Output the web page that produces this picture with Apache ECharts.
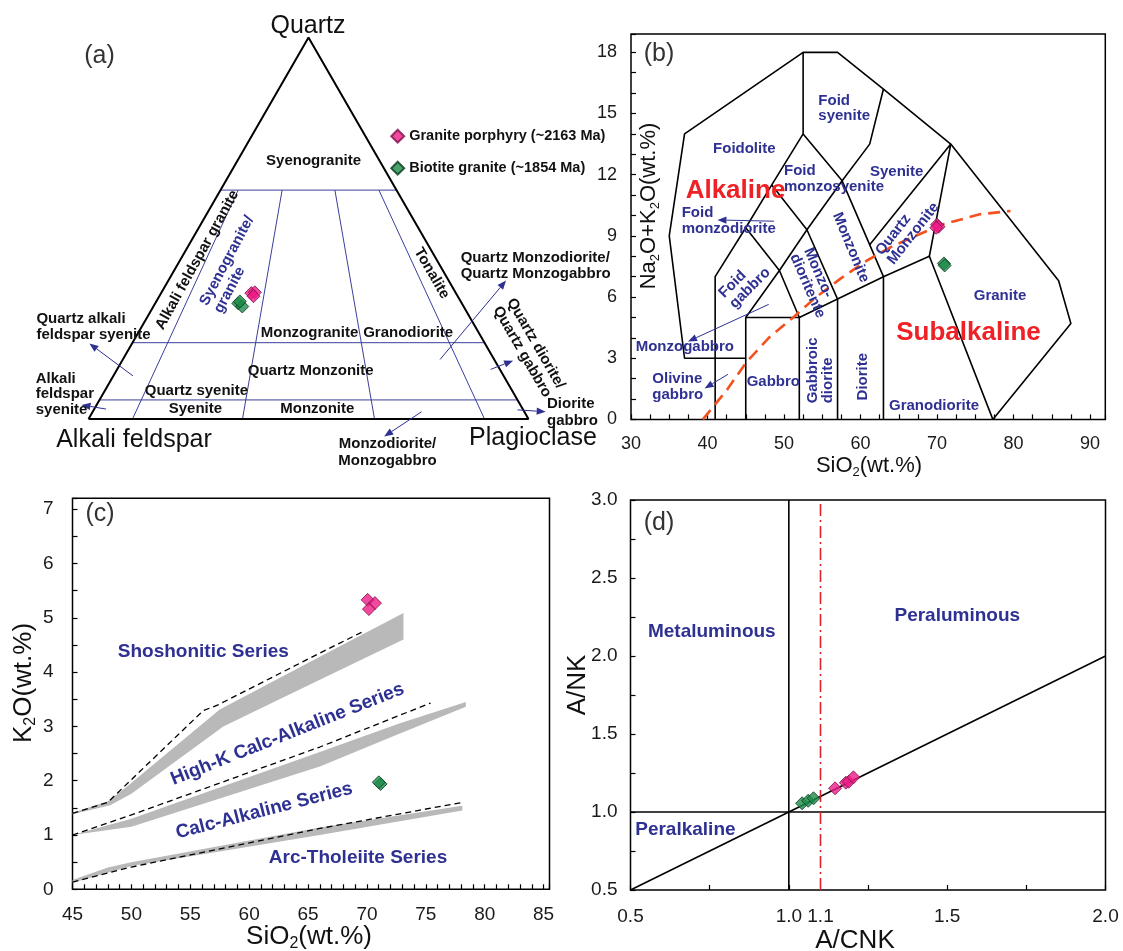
<!DOCTYPE html>
<html>
<head>
<meta charset="utf-8">
<title>Granite classification diagrams</title>
<script src="https://cdn.jsdelivr.net/npm/echarts@6/dist/echarts.min.js"></script>
<style>
html, body { margin: 0; padding: 0; background: #ffffff; }
#chart { width: 1123px; height: 951px; }
</style>
</head>
<body>
<div id="chart"></div>
<script>
// ---------------- sample groups ----------------
const NAME_P = 'Granite porphyry (~2163 Ma)';
const NAME_B = 'Biotite granite (~1854 Ma)';

// (a) QAP modal compositions, [Q, A, P] in %
const qapPorphyry = [[33.0, 46.5, 20.5], [33.2, 45.6, 21.2], [32.2, 46.4, 21.4]];
const qapBiotite  = [[30.3, 50.8, 18.9], [29.5, 50.3, 20.2], [30.8, 50.2, 19.0]];
// Streckeisen field boundaries: Q levels and P/(A+P) ratios, in %
const qapQLevels  = [60, 20, 5];
const qapPRatios  = [10, 35, 65, 90];
const qapRatioTopQ = 60;

// (b) TAS: SiO2 vs Na2O+K2O (wt.%)
const tasPorphyry = [[70.0, 9.55], [70.2, 9.45], [69.9, 9.4]];
const tasBiotite  = [[70.9, 7.65], [71.0, 7.55]];
const tasFieldLines = [
  [[41, 3], [37, 3], [35, 9], [37, 14], [52.5, 18], [57, 18], [63, 16.2], [71.8, 13.5], [85.9, 6.8], [87.5, 4.7], [77.3, 0]],
  [[41, 0], [41, 7], [45, 9.4], [48.4, 11.5], [52.5, 14], [52.5, 18]],
  [[41, 3], [45, 3]],
  [[45, 0], [45, 5], [52, 5]],
  [[45, 5], [49.4, 7.3], [53, 9.3], [57.6, 11.7], [61.2, 13.5], [63, 16.2]],
  [[45, 9.4], [49.4, 7.3], [52, 5], [57, 5.9], [63, 7], [69, 8], [77.3, 0]],
  [[48.4, 11.5], [53, 9.3], [57, 5.9]],
  [[52.5, 14], [57.6, 11.7], [63, 7]],
  [[61.2, 8.57], [71.8, 13.5], [69, 8]],
  [[52, 0], [52, 5]],
  [[57, 0], [57, 5.9]],
  [[63, 0], [63, 7]]
];
// alkaline / subalkaline divide
const tasAlkalineDivide = [[39.4, 0], [42.5, 1.43], [45.1, 2.81], [48.1, 4.03], [51.2, 5.0], [54.2, 6.0],
  [57.3, 6.88], [60.8, 7.78], [64.2, 8.5], [67.7, 9.08], [70.8, 9.57], [75.6, 10.06], [79.6, 10.22]];
const tasXTicks = [30, 40, 50, 60, 70, 80, 90];
const tasYTicks = [0, 3, 6, 9, 12, 15, 18];

// (c) SiO2 vs K2O (wt.%)
const k2oPorphyry = [[70.06, 5.33], [70.68, 5.27], [70.17, 5.16]];
const k2oBiotite  = [[71.16, 1.94], [71.0, 1.97]];
const k2oBands = [
  [[45, 1.41], [48, 1.62], [49.5, 1.87], [57.5, 3.31], [66, 4.28], [73.1, 5.09], [73.1, 4.6], [66, 3.86], [57.8, 3.0], [50, 1.76], [48.2, 1.55], [45, 1.38]],
  [[45, 1.0], [50, 1.3], [66, 2.53], [72.8, 3.06], [78.4, 3.45], [78.4, 3.36], [72.8, 2.87], [66, 2.26], [50, 1.15], [45, 1.0]],
  [[45, 0.17], [48, 0.4], [50, 0.5], [66, 1.14], [78.1, 1.54], [78.1, 1.45], [66, 1.0], [50, 0.43], [45, 0.12]]
];
const k2oDashed = [
  [[45, 1.4], [48, 1.6], [48.8, 1.77], [56.1, 3.29], [57.3, 3.39], [66, 4.35], [69.8, 4.76]],
  [[45, 1.0], [50, 1.37], [66, 2.62], [75.4, 3.43]],
  [[45, 0.13], [50, 0.41], [66, 1.12], [78.1, 1.6]]
];
const k2oXTicks = [45, 50, 55, 60, 65, 70, 75, 80, 85];
const k2oYTicks = [0, 1, 2, 3, 4, 5, 6, 7];

// (d) A/CNK vs A/NK
const ancPorphyry = [[1.146, 1.152], [1.18, 1.188], [1.189, 1.194], [1.204, 1.222]];
const ancBiotite  = [[1.042, 1.056], [1.061, 1.072], [1.078, 1.088]];
const ancLines = [[[1.0, 0.5], [1.0, 3.0]], [[0.5, 1.0], [2.0, 1.0]], [[0.5, 0.5], [2.0, 2.0]]];
const ancRefACNK = 1.1;
const ancXTicks = [0.5, 1.0, 1.5, 2.0];
const ancYTicks = [0.5, 1.0, 1.5, 2.0, 2.5, 3.0];

// ---------------- styling ----------------
const FONT = 'Liberation Sans, Arial, Helvetica, sans-serif';
const NAVY = '#2e3192';
const RED = '#ee2226';
const LOOK_P = { color: '#ee1b86', borderColor: '#7d0f49', borderWidth: 1 };
const LOOK_B = { color: '#1d8c4a', borderColor: '#0b3a1e', borderWidth: 1 };

// ternary projection: x = P + Q/2, y = Q
const qap = ([q, a, p]) => [(p + q / 2) / 100, q / 100];

const qapOutline = [[0, 100, 0], [0, 0, 100], [100, 0, 0], [0, 100, 0]].map(qap);
const qapLevelLines = qapQLevels.map(q => [qap([q, 100 - q, 0]), qap([q, 0, 100 - q])]);
const qapRatioLines = qapPRatios.map(r => [qapRatioTopQ, 0].map(q => {
  const p = (100 - q) * r / 100;
  return qap([q, 100 - q - p, p]);
}));

// annotation arrows (tail, head) in each panel's plotting coordinates
const qapArrows = [
  [[0.101, 0.113], [0.002, 0.198]],
  [[0.040, 0.026], [-0.016, 0.037]],
  [[0.799, 0.156], [0.949, 0.363]],
  [[0.914, 0.130], [0.965, 0.153]],
  [[0.975, 0.024], [1.039, 0.019]],
  [[0.757, 0.019], [0.672, -0.046]]
];
const tasArrows = [
  [[48.7, 9.72], [41.3, 9.78]],
  [[48.0, 5.64], [37.45, 3.82]],
  [[42.67, 2.21], [39.62, 1.52]]
];

// ---------------- helpers ----------------
function lineSeries(gi, pts, style, z) {
  return {
    type: 'line', xAxisIndex: gi, yAxisIndex: gi, data: pts, symbol: 'none',
    silent: true, clip: false, z: z || 3, lineStyle: style
  };
}
function scatter(gi, name, data, look) {
  return {
    type: 'scatter', name, xAxisIndex: gi, yAxisIndex: gi, data,
    symbol: 'diamond', symbolSize: 13, itemStyle: look, z: 8
  };
}
function arrowSeries(gi, list, anchor) {
  return {
    type: 'custom', coordinateSystem: 'cartesian2d', xAxisIndex: gi, yAxisIndex: gi,
    data: [anchor], silent: true, clip: false, z: 5,
    renderItem: (params, api) => {
      const kids = [];
      list.forEach(([a, b]) => {
        const p = api.coord(a), q = api.coord(b);
        const dx = q[0] - p[0], dy = q[1] - p[1], L = Math.hypot(dx, dy);
        const ux = dx / L, uy = dy / L, hl = 9, hw = 3.6;
        const bx = q[0] - ux * hl, by = q[1] - uy * hl;
        kids.push({ type: 'line', shape: { x1: p[0], y1: p[1], x2: bx, y2: by }, style: { stroke: NAVY, lineWidth: 1 } });
        kids.push({ type: 'polygon', shape: { points: [q, [bx - uy * hw, by + ux * hw], [bx + uy * hw, by - ux * hw]] }, style: { fill: NAVY } });
      });
      return { type: 'group', children: kids };
    }
  };
}
function bandSeries(gi, bands, anchor) {
  return {
    type: 'custom', coordinateSystem: 'cartesian2d', xAxisIndex: gi, yAxisIndex: gi,
    data: [anchor], silent: true, z: 2,
    renderItem: (params, api) => ({
      type: 'group',
      children: bands.map(b => ({ type: 'polygon', shape: { points: b.map(v => api.coord(v)) }, style: { fill: '#b9b9b9' } }))
    })
  };
}
const hasTick = (list, v) => list.some(t => Math.abs(t - v) < 1e-6);
function valueAxis(gi, min, max, step, labels, fmt, o) {
  return {
    type: 'value', gridIndex: gi, min, max, interval: step,
    axisLine: { show: false }, splitLine: { show: false },
    axisTick: { show: true, inside: true, length: 5, lineStyle: { color: '#000', width: 1.2 } },
    axisLabel: {
      margin: o.margin, fontSize: o.size, color: '#1a1a1a', fontFamily: FONT,
      formatter: v => hasTick(labels, v) ? fmt(v) : ''
    }
  };
}
const intFmt = v => String(Math.round(v));
const oneDec = v => v.toFixed(1);
const hiddenAxis = gi => ({ type: 'value', gridIndex: gi, min: 0, max: 1, show: false });

function txt(text, x, y, o) {
  o = o || {};
  const style = {
    text, fill: o.color || '#111', fontSize: o.size || 15, fontWeight: o.weight || 'bold',
    fontFamily: FONT, align: o.align || 'center', verticalAlign: 'middle', lineHeight: o.lh || 16
  };
  if (o.rich) style.rich = o.rich;
  return { type: 'text', x, y, rotation: (o.rot || 0) * Math.PI / 180, z: 10, silent: true, style };
}
const subRich = size => ({ s: { fontSize: Math.round(size * 0.6), lineHeight: 9, verticalAlign: 'bottom', fontFamily: FONT, fill: '#111' } });
const title = (t, x, y, size, rot) => txt(t, x, y, { size, weight: 'normal', rot: rot || 0, lh: size + 4, rich: subRich(size) });

// ---------------- chart ----------------
const frame = { show: true, borderColor: '#000', borderWidth: 1.5, backgroundColor: 'transparent' };

const option = {
  animation: false,
  backgroundColor: '#ffffff',
  textStyle: { fontFamily: FONT },
  grid: [
    { left: 88.5, top: 37.5, width: 440, height: 381.5, show: false },
    Object.assign({ left: 631, top: 34, width: 474.3, height: 385.4 }, frame),
    Object.assign({ left: 72.5, top: 498.3, width: 477, height: 391 }, frame),
    Object.assign({ left: 630.5, top: 500, width: 475, height: 390 }, frame)
  ],
  xAxis: [
    hiddenAxis(0),
    valueAxis(1, 30, 92, 2.5, tasXTicks, intFmt, { margin: 16, size: 18 }),
    valueAxis(2, 45, 85.5, 1, k2oXTicks, intFmt, { margin: 16, size: 19 }),
    valueAxis(3, 0.5, 2.0, 0.25, ancXTicks, oneDec, { margin: 17, size: 19 })
  ],
  yAxis: [
    hiddenAxis(0),
    valueAxis(1, 0, 18.9, 1, tasYTicks, intFmt, { margin: 14, size: 18 }),
    valueAxis(2, 0, 7.2, 0.5, k2oYTicks, intFmt, { margin: 19, size: 19 }),
    valueAxis(3, 0.5, 3.0, 0.25, ancYTicks, oneDec, { margin: 13, size: 19 })
  ],
  legend: {
    data: [NAME_P, NAME_B], orient: 'vertical', left: 385.2, top: 123.7,
    itemWidth: 13, itemHeight: 13, itemGap: 17, icon: 'diamond', selectedMode: false,
    textStyle: { fontSize: 14.5, fontWeight: 'bold', color: '#111', fontFamily: FONT, lineHeight: 14 }
  },
  series: [
    // (a) QAP
    lineSeries(0, qapOutline, { color: '#000', width: 2 }, 4),
    ...qapLevelLines.map(l => lineSeries(0, l, { color: '#3b3f9b', width: 1 })),
    ...qapRatioLines.map(l => lineSeries(0, l, { color: '#3b3f9b', width: 1 })),
    arrowSeries(0, qapArrows, [0, 0]),
    scatter(0, NAME_B, qapBiotite.map(qap), LOOK_B),
    scatter(0, NAME_P, qapPorphyry.map(qap), LOOK_P),

    // (b) TAS
    ...tasFieldLines.map(l => lineSeries(1, l, { color: '#000', width: 1.6 })),
    lineSeries(1, tasAlkalineDivide, { color: '#f4511e', width: 2.6, type: [12, 7] }, 6),
    arrowSeries(1, tasArrows, [30, 0]),
    scatter(1, NAME_B, tasBiotite, LOOK_B),
    scatter(1, NAME_P, tasPorphyry, LOOK_P),

    // (c) K2O
    bandSeries(2, k2oBands, [45, 0]),
    ...k2oDashed.map(l => lineSeries(2, l, { color: '#000', width: 1.3, type: [6, 4] }, 4)),
    scatter(2, NAME_B, k2oBiotite, LOOK_B),
    scatter(2, NAME_P, k2oPorphyry, LOOK_P),

    // (d) A/CNK - A/NK
    ...ancLines.map(l => lineSeries(3, l, { color: '#000', width: 1.6 })),
    lineSeries(3, [[ancRefACNK, 0.5], [ancRefACNK, 3.0]], { color: '#e3212b', width: 1.6, type: [12, 4, 2, 4] }, 5),
    {
      // axis-style label for the A/CNK = 1.1 reference line
      type: 'scatter', xAxisIndex: 3, yAxisIndex: 3, data: [[ancRefACNK, 0.5]], symbol: 'circle', symbolSize: 1,
      silent: true, z: 9, itemStyle: { color: 'rgba(255,255,255,0)' },
      label: {
        show: true, position: 'bottom', distance: 17, formatter: () => ancRefACNK.toFixed(1),
        fontSize: 19, color: '#1a1a1a', fontFamily: FONT, opacity: 1
      }
    },
    scatter(3, NAME_B, ancBiotite, LOOK_B),
    scatter(3, NAME_P, ancPorphyry, LOOK_P)
  ],
  graphic: { elements: [
    // (a)
    txt('(a)', 99.5, 56, { size: 25, weight: 'normal', color: '#333' }),
    txt('Quartz', 308, 26, { size: 25, weight: 'normal' }),
    txt('Alkali feldspar', 134, 440, { size: 25, weight: 'normal' }),
    txt('Plagioclase', 533, 438, { size: 25, weight: 'normal' }),
    txt('Syenogranite', 313.6, 160.7),
    txt('Alkali feldspar granite', 197.3, 260, { rot: 61 }),
    txt('Syenogranite/\ngranite', 210.7, 308.3, { rot: 62, align: 'left', color: NAVY, lh: 16 }),
    txt('Tonalite', 431.7, 273.3, { rot: -60 }),
    txt('Monzogranite', 309.5, 332.7),
    txt('Granodiorite', 408.2, 332.7),
    txt('Quartz Monzonite', 310.7, 370.7),
    txt('Quartz syenite', 196.4, 390.7),
    txt('Syenite', 195.4, 409.3),
    txt('Monzonite', 317.3, 409.3),
    txt('Quartz alkali\nfeldspar syenite', 36.4, 327.2, { align: 'left', lh: 15.7 }),
    txt('Alkali\nfeldspar\nsyenite', 35.7, 394, { align: 'left', lh: 15.5 }),
    txt('Quartz Monzodiorite/\nQuartz Monzogabbro', 460.7, 266.2, { align: 'left', lh: 15.7 }),
    txt('Quartz diorite/\nQuartz gabbro', 503.4, 303.4, { rot: -60, align: 'left', lh: 16 }),
    txt('Diorite\ngabbro', 547, 412.2, { align: 'left', lh: 16.5 }),
    txt('Monzodiorite/\nMonzogabbro', 387.5, 452.5, { lh: 17 }),

    // (b)
    txt('(b)', 659, 54, { size: 25, weight: 'normal', color: '#333' }),
    txt('Foid\nsyenite', 818.3, 108.3, { align: 'left', color: NAVY, lh: 15.3 }),
    txt('Foidolite', 744.3, 149.3, { color: NAVY }),
    txt('Foid\nmonzosyenite', 784, 178.8, { align: 'left', color: NAVY, lh: 15.7 }),
    txt('Syenite', 896.7, 171.7, { color: NAVY }),
    txt('Alkaline', 735.5, 190.7, { size: 26, color: RED }),
    txt('Foid\nmonzodiorite', 681.7, 221.3, { align: 'left', color: NAVY, lh: 16 }),
    txt('Monzonite', 850.8, 247.5, { rot: -67.5, color: NAVY }),
    txt('Quartz\nMonzonite', 884.6, 258.1, { rot: 52, align: 'left', color: NAVY, lh: 15 }),
    txt('Monzo-\ndioritente', 800.8, 251.7, { rot: -66.5, align: 'left', color: NAVY, lh: 15 }),
    txt('Foid\ngabbro', 726.7, 300.8, { rot: 45, align: 'left', color: NAVY, lh: 15 }),
    txt('Monzogabbro', 635.7, 347.3, { align: 'left', color: NAVY }),
    txt('Olivine\ngabbro', 652.3, 386.8, { align: 'left', color: NAVY, lh: 15.5 }),
    txt('Gabbro', 773.3, 381.7, { color: NAVY }),
    txt('Gabbroic\ndiorite', 820.8, 403.3, { rot: 90, align: 'left', color: NAVY, lh: 15 }),
    txt('Diorite', 862.7, 376.7, { rot: 90, color: NAVY }),
    txt('Granodiorite', 934, 405.5, { color: NAVY }),
    txt('Granite', 1000, 295.7, { color: NAVY }),
    txt('Subalkaline', 968.5, 332.7, { size: 26, color: RED }),
    title('Na{s|2}O+K{s|2}O(wt.%)', 649, 206, 22, 90),
    title('SiO{s|2}(wt.%)', 869, 466, 22),

    // (c)
    txt('(c)', 100, 514, { size: 25, weight: 'normal', color: '#333' }),
    txt('Shoshonitic Series', 203.3, 651.7, { size: 19, color: NAVY }),
    txt('High-K Calc-Alkaline Series', 287.5, 734.2, { size: 19, color: NAVY, rot: 21.6 }),
    txt('Calc-Alkaline Series', 264.2, 810.8, { size: 19, color: NAVY, rot: 14.4 }),
    txt('Arc-Tholeiite Series', 358, 857.3, { size: 19, color: NAVY }),
    title('K{s|2}O(wt.%)', 24, 683, 26, 90),
    title('SiO{s|2}(wt.%)', 309, 937, 26),

    // (d)
    txt('(d)', 659, 523, { size: 25, weight: 'normal', color: '#333' }),
    txt('Metaluminous', 711.8, 631.7, { size: 19, color: NAVY }),
    txt('Peraluminous', 957.3, 616, { size: 19, color: NAVY }),
    txt('Peralkaline', 685.4, 830, { size: 19, color: NAVY }),
    title('A/NK', 578, 685, 26, 90),
    title('A/CNK', 855, 941, 26)
  ] }
};

const chart = echarts.init(document.getElementById('chart'), null, { renderer: 'canvas' });
chart.setOption(option);
</script>
</body>
</html>
